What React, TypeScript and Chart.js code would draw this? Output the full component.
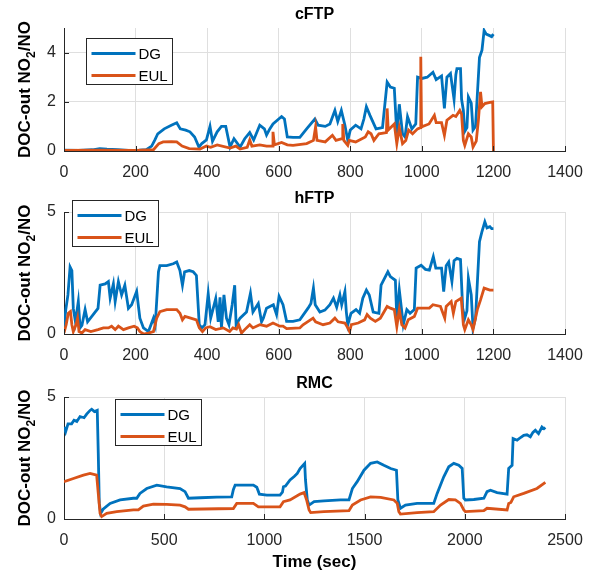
import React, { useEffect, useRef } from 'react';
import { Chart, registerables } from 'chart.js';

Chart.register(...registerables);

const FONT = '"Liberation Sans", Arial, Helvetica, sans-serif';
const AXIS = '#262626';
const GRID = '#dfdfdf';
const DG_COLOR = '#0072BD';
const EUL_COLOR = '#D95319';

const seriesNames = ['DG', 'EUL'];
const panelTitles = ['cFTP', 'hFTP', 'RMC'];
const yAxisLabelMain = 'DOC-out NO';
const yAxisLabelSub = '2';
const yAxisLabelEnd = '/NO';
const xAxisLabel = 'Time (sec)';

const ftpXTicks = [0, 200, 400, 600, 800, 1000, 1200, 1400];
const rmcXTicks = [0, 500, 1000, 1500, 2000, 2500];
const cftpYTicks = [0, 2, 4];
const hftpYTicks = [0, 5];
const rmcYTicks = [0, 5];

// [time (sec), NO2/NO]
const cftpDG: [number, number][] = [
  [0, 0.03], [40, 0.02], [80, 0.05], [100, 0.1], [120, 0.08], [150, 0.06], [180, 0.02], [210, 0.03],
  [230, 0.05], [245, 0.2], [254, 0.45], [262, 0.7], [280, 0.9], [300, 1.05], [315, 1.15], [325, 0.9],
  [340, 0.85], [352, 0.78], [365, 0.57], [377, 0.16], [385, 0.3], [398, 0.45], [408, 1.0], [415, 0.4],
  [428, 0.78], [440, 1.0], [452, 1.0], [464, 0.16], [475, 0.5], [492, 0.16], [505, 0.5], [519, 0.75],
  [530, 0.45], [547, 1.05], [560, 0.9], [566, 0.65], [575, 0.9], [584, 1.1], [600, 1.3], [608, 1.4],
  [616, 1.3], [624, 0.57], [640, 0.55], [659, 0.55], [678, 0.9], [701, 1.3], [710, 1.05], [730, 1.0],
  [743, 1.1], [757, 1.65], [765, 1.2], [775, 1.65], [785, 1.05], [793, 0.43], [800, 0.85], [815, 1.05],
  [830, 0.9], [838, 1.3], [845, 1.8], [855, 1.45], [872, 0.9], [890, 0.95], [903, 2.8], [912, 2.6],
  [923, 2.55], [930, 0.7], [937, 1.9], [946, 0.7], [953, 0.57], [960, 1.4], [972, 0.9], [983, 1.1],
  [988, 3.0], [1000, 2.95], [1015, 3.0], [1031, 3.2], [1040, 2.9], [1055, 3.05], [1063, 1.73], [1070, 3.0],
  [1080, 3.15], [1090, 2.1], [1095, 3.1], [1098, 3.35], [1108, 3.35], [1111, 2.1], [1116, 1.65], [1120, 0.8],
  [1126, 0.95], [1130, 2.2], [1138, 1.95], [1143, 0.85], [1150, 1.0], [1161, 3.8], [1168, 4.1], [1174, 4.9],
  [1180, 4.75], [1188, 4.7], [1195, 4.65], [1200, 4.75],
];
const cftpEUL: [number, number][] = [
  [0, 0.02], [100, 0.03], [200, 0.02], [250, 0.05], [265, 0.3], [277, 0.37], [300, 0.38], [315, 0.37],
  [330, 0.2], [350, 0.1], [380, 0.08], [398, 0.2], [410, 0.15], [428, 0.25], [464, 0.12], [480, 0.2],
  [492, 0.08], [512, 0.15], [519, 0.45], [525, 0.2], [547, 0.25], [566, 0.2], [582, 0.2], [584, 0.78],
  [588, 0.25], [608, 0.35], [624, 0.25], [640, 0.23], [678, 0.3], [697, 0.43], [703, 0.98], [707, 0.43],
  [730, 0.37], [750, 0.64], [760, 0.43], [777, 0.5], [779, 1.1], [782, 0.43], [793, 0.23], [797, 0.43],
  [815, 0.37], [842, 0.57], [850, 0.78], [858, 0.7], [866, 0.43], [880, 0.7], [901, 0.75], [903, 1.73],
  [906, 0.85], [923, 1.1], [930, 0.3], [937, 0.95], [946, 0.3], [955, 0.43], [963, 0.85], [974, 0.7],
  [988, 0.9], [996, 0.95], [997, 3.83], [999, 0.98], [1020, 1.1], [1035, 1.45], [1040, 1.15], [1055, 1.15],
  [1063, 0.64], [1070, 1.25], [1087, 1.45], [1095, 1.4], [1106, 1.65], [1111, 1.5], [1116, 0.43], [1120, 0.23],
  [1130, 0.7], [1138, 0.57], [1143, 0.16], [1152, 0.4], [1158, 1.25], [1164, 2.4], [1168, 1.8], [1176, 1.93],
  [1190, 1.98], [1198, 2.0], [1200, 0.0],
];
const hftpDG: [number, number][] = [
  [0, 0.25], [5, 1.0], [11, 1.6], [17, 2.75], [22, 2.6], [26, 1.05], [32, 0.5], [40, 1.33], [45, 0.25],
  [50, 0.35], [59, 1.0], [66, 0.5], [82, 0.8], [95, 1.05], [101, 2.0], [115, 2.05], [124, 2.15], [129, 1.47],
  [138, 2.05], [143, 1.33], [152, 2.15], [161, 1.6], [170, 2.0], [180, 1.05], [189, 1.2], [203, 1.75],
  [212, 0.65], [222, 0.25], [236, 0.1], [250, 0.65], [255, 0.38], [264, 2.55], [268, 2.8], [287, 2.8],
  [305, 2.88], [315, 2.95], [324, 2.6], [331, 2.0], [337, 2.55], [350, 2.6], [361, 2.55], [370, 2.4],
  [378, 0.38], [385, 0.25], [394, 0.38], [403, 1.65], [410, 0.65], [424, 1.45], [431, 0.5], [436, 1.5],
  [440, 0.25], [447, 1.6], [454, 0.65], [461, 0.38], [470, 1.2], [477, 2.0], [481, 0.38], [492, 0.65],
  [510, 0.9], [521, 1.67], [528, 0.9], [543, 1.25], [552, 0.5], [557, 0.65], [566, 1.06], [585, 1.2],
  [594, 0.8], [601, 1.54], [612, 1.2], [622, 0.52], [640, 0.52], [659, 0.58], [682, 1.06], [690, 1.25],
  [697, 1.88], [702, 1.2], [715, 0.9], [729, 0.98], [743, 1.2], [753, 1.47], [762, 1.1], [771, 1.6],
  [776, 1.2], [785, 1.74], [789, 0.9], [793, 0.38], [802, 0.85], [816, 1.0], [826, 0.85], [835, 1.47],
  [845, 1.8], [853, 1.6], [864, 0.9], [880, 0.85], [886, 2.0], [905, 2.55], [912, 2.35], [926, 2.2],
  [930, 0.65], [937, 1.8], [946, 0.65], [948, 0.38], [958, 1.0], [967, 0.85], [979, 1.0], [984, 2.7],
  [998, 2.82], [1010, 2.65], [1021, 2.62], [1032, 3.17], [1039, 2.7], [1055, 2.7], [1061, 1.74], [1068, 2.8],
  [1075, 2.95], [1084, 2.15], [1090, 3.0], [1098, 3.1], [1108, 3.05], [1114, 1.06], [1120, 0.65], [1126, 0.95],
  [1130, 2.28], [1138, 1.6], [1143, 0.25], [1150, 0.65], [1161, 3.78], [1168, 4.2], [1176, 4.6], [1182, 4.35],
  [1190, 4.4], [1195, 4.32], [1200, 4.32],
];
const hftpEUL: [number, number][] = [
  [0, 0.04], [6, 0.38], [12, 0.85], [18, 0.92], [22, 0.38], [26, 0.1], [34, 0.4], [38, 0.65], [42, 0.1],
  [50, 0.04], [59, 0.18], [75, 0.1], [95, 0.18], [110, 0.25], [124, 0.25], [133, 0.32], [143, 0.18],
  [152, 0.32], [166, 0.18], [180, 0.25], [196, 0.32], [205, 0.25], [212, 0.1], [222, 0.0], [236, 0.04],
  [250, 0.1], [259, 0.65], [268, 0.92], [287, 1.0], [315, 1.0], [324, 0.85], [331, 0.58], [338, 0.72],
  [354, 0.65], [370, 0.58], [378, 0.25], [387, 0.1], [396, 0.25], [408, 0.3], [424, 0.18], [445, 0.25],
  [463, 0.1], [472, 0.25], [482, 0.2], [488, 0.38], [496, 0.04], [505, 0.18], [519, 0.38], [528, 0.25],
  [547, 0.38], [566, 0.32], [584, 0.45], [603, 0.32], [612, 0.32], [622, 0.22], [659, 0.25], [668, 0.38],
  [696, 0.65], [703, 0.5], [724, 0.38], [743, 0.45], [757, 0.65], [766, 0.5], [785, 0.45], [793, 0.25],
  [798, 0.1], [803, 0.38], [822, 0.45], [840, 0.58], [847, 0.8], [856, 0.65], [870, 0.52], [884, 0.65],
  [903, 1.13], [912, 1.06], [923, 1.0], [930, 0.3], [937, 1.0], [944, 0.38], [953, 0.25], [962, 0.58],
  [979, 0.72], [988, 1.06], [1021, 1.06], [1031, 1.2], [1052, 1.13], [1064, 0.65], [1068, 1.13], [1082, 1.33],
  [1088, 0.85], [1095, 1.33], [1110, 1.47], [1116, 0.38], [1120, 0.18], [1130, 0.58], [1138, 0.38], [1143, 0.18],
  [1155, 1.0], [1164, 1.4], [1174, 1.88], [1190, 1.8], [1200, 1.8],
];
const rmcDG: [number, number][] = [
  [0, 3.77], [8, 3.57], [20, 3.9], [38, 3.9], [50, 4.05], [64, 4.0], [80, 4.2], [100, 4.15], [113, 4.3],
  [130, 4.45], [138, 4.5], [152, 4.4], [166, 4.45], [171, 2.7], [176, 0.65], [183, 0.23], [195, 0.4],
  [230, 0.64], [280, 0.78], [346, 0.85], [363, 0.85], [379, 1.05], [413, 1.25], [463, 1.39], [512, 1.32],
  [579, 1.25], [604, 1.12], [621, 0.85], [679, 0.87], [762, 0.9], [837, 0.91], [845, 1.2], [854, 1.39],
  [945, 1.39], [962, 1.3], [975, 1.02], [1012, 0.98], [1078, 0.98], [1090, 1.1], [1095, 1.32], [1105, 1.35],
  [1128, 1.6], [1150, 1.75], [1164, 1.87], [1178, 2.07], [1201, 2.28], [1205, 1.6], [1214, 0.78], [1223, 0.57],
  [1248, 0.71], [1297, 0.74], [1380, 0.78], [1422, 0.78], [1439, 1.25], [1463, 1.53], [1497, 2.0], [1530, 2.28],
  [1563, 2.34], [1596, 2.2], [1630, 2.07], [1659, 2.0], [1666, 0.78], [1679, 0.44], [1704, 0.57], [1762, 0.64],
  [1845, 0.64], [1862, 1.05], [1895, 1.73], [1920, 2.14], [1945, 2.28], [1970, 2.2], [1987, 2.07], [1995, 0.85],
  [2003, 0.78], [2045, 0.8], [2095, 0.85], [2111, 1.12], [2128, 1.18], [2161, 1.08], [2211, 1.02], [2219, 2.07],
  [2228, 2.14], [2236, 2.2], [2241, 3.3], [2261, 3.23], [2280, 3.35], [2294, 3.43], [2310, 3.45], [2327, 3.37],
  [2340, 3.55], [2352, 3.64], [2368, 3.5], [2385, 3.77], [2395, 3.7], [2402, 3.75],
];
const rmcEUL: [number, number][] = [
  [0, 1.53], [47, 1.66], [97, 1.8], [130, 1.87], [163, 1.8], [171, 1.05], [180, 0.23], [188, 0.1],
  [213, 0.23], [263, 0.3], [346, 0.37], [371, 0.37], [396, 0.53], [446, 0.61], [512, 0.6], [579, 0.57],
  [604, 0.5], [621, 0.4], [845, 0.43], [862, 0.64], [945, 0.64], [970, 0.5], [1078, 0.5], [1095, 0.71],
  [1128, 0.78], [1178, 1.02], [1198, 1.08], [1210, 0.8], [1223, 0.37], [1231, 0.26], [1297, 0.3], [1422, 0.34],
  [1439, 0.57], [1480, 0.78], [1530, 0.91], [1580, 0.89], [1646, 0.78], [1663, 0.64], [1671, 0.3], [1679, 0.2],
  [1762, 0.26], [1845, 0.3], [1879, 0.57], [1920, 0.8], [1953, 0.78], [1978, 0.64], [1995, 0.37], [2003, 0.3],
  [2095, 0.34], [2111, 0.44], [2211, 0.37], [2219, 0.64], [2230, 0.68], [2244, 0.91], [2294, 1.05], [2360, 1.25],
  [2402, 1.5],
];

type PanelProps = {
  title: string;
  dg: [number, number][];
  eul: [number, number][];
  xTicks: number[];
  yTicks: number[];
  top: number;
  height: number;
  xAxisHeight: number;
  legendPos: [number, number];
  showXTitle: boolean;
};

function Panel(props: PanelProps) {
  const ref = useRef<HTMLCanvasElement | null>(null);
  useEffect(() => {
    const canvas = ref.current;
    if (!canvas) return;
    const { title, dg, eul, xTicks, yTicks, xAxisHeight, legendPos, showXTitle } = props;
    const xMax = xTicks[xTicks.length - 1];

    const decor = {
      id: 'decor',
      afterDraw(chart: any) {
        const { ctx, chartArea: a, scales } = chart;
        ctx.save();
        // inward tick marks
        ctx.strokeStyle = AXIS;
        ctx.lineWidth = 1;
        ctx.beginPath();
        xTicks.forEach((v) => {
          const px = Math.round(scales.x.getPixelForValue(v)) + 0.5;
          ctx.moveTo(px, a.bottom);
          ctx.lineTo(px, a.bottom - 5);
        });
        yTicks.forEach((v) => {
          const py = Math.round(scales.y.getPixelForValue(v)) + 0.5;
          ctx.moveTo(a.left, py);
          ctx.lineTo(a.left + 5, py);
        });
        ctx.stroke();

        // title
        ctx.fillStyle = '#000';
        ctx.font = `bold 16px ${FONT}`;
        ctx.textAlign = 'center';
        ctx.textBaseline = 'middle';
        ctx.fillText(title, (a.left + a.right) / 2, a.top - 13);

        // y label with subscript
        ctx.save();
        ctx.translate(25, (a.top + a.bottom) / 2);
        ctx.rotate(-Math.PI / 2);
        const mainFont = `bold 17px ${FONT}`;
        const subFont = `bold 12px ${FONT}`;
        ctx.font = mainFont;
        const w1 = ctx.measureText(yAxisLabelMain).width;
        const w3 = ctx.measureText(yAxisLabelEnd).width;
        ctx.font = subFont;
        const w2 = ctx.measureText(yAxisLabelSub).width;
        let sx = -(w1 + w2 + w3) / 2;
        ctx.textAlign = 'left';
        ctx.textBaseline = 'middle';
        ctx.fillStyle = '#000';
        ctx.font = mainFont;
        ctx.fillText(yAxisLabelMain, sx, 0);
        sx += w1;
        ctx.font = subFont;
        ctx.fillText(yAxisLabelSub, sx, 7);
        sx += w2;
        ctx.font = mainFont;
        ctx.fillText(yAxisLabelEnd, sx, 0);
        ctx.restore();

        // legend
        const bx = Math.round(a.left + legendPos[0]) + 0.5;
        const by = Math.round(a.top + legendPos[1]) + 0.5;
        const bw = 86;
        const bh = 46;
        ctx.fillStyle = '#fff';
        ctx.fillRect(bx, by, bw, bh);
        ctx.strokeStyle = AXIS;
        ctx.lineWidth = 1;
        ctx.strokeRect(bx, by, bw, bh);
        const colors = [DG_COLOR, EUL_COLOR];
        const rows = [15, 37];
        seriesNames.forEach((name, i) => {
          const ry = by + rows[i];
          ctx.strokeStyle = colors[i];
          ctx.lineWidth = 2.8;
          ctx.beginPath();
          ctx.moveTo(bx + 5, ry);
          ctx.lineTo(bx + 49, ry);
          ctx.stroke();
          ctx.fillStyle = '#000';
          ctx.font = `15px ${FONT}`;
          ctx.textAlign = 'left';
          ctx.textBaseline = 'middle';
          ctx.fillText(name, bx + 52, ry + 1);
        });

        if (showXTitle) {
          ctx.fillStyle = '#000';
          ctx.font = `bold 17px ${FONT}`;
          ctx.textAlign = 'center';
          ctx.textBaseline = 'middle';
          ctx.fillText(xAxisLabel, (a.left + a.right) / 2, a.bottom + 43);
        }
        ctx.restore();
      },
    };

    const toPts = (arr: [number, number][]) => arr.map(([x, y]) => ({ x, y }));

    const chart = new Chart(canvas, {
      type: 'line',
      data: {
        datasets: [
          {
            label: seriesNames[0],
            data: toPts(dg),
            borderColor: DG_COLOR,
            backgroundColor: DG_COLOR,
            borderWidth: 2.8,
            pointRadius: 0,
            tension: 0,
            order: 2,
          },
          {
            label: seriesNames[1],
            data: toPts(eul),
            borderColor: EUL_COLOR,
            backgroundColor: EUL_COLOR,
            borderWidth: 2.8,
            pointRadius: 0,
            tension: 0,
            order: 1,
          },
        ],
      },
      options: {
        animation: false,
        responsive: false,
        devicePixelRatio: 1,
        layout: { padding: { top: 28, right: 30, left: 0, bottom: 0 } },
        plugins: {
          legend: { display: false },
          tooltip: { enabled: false },
          title: { display: false },
        },
        scales: {
          x: {
            type: 'linear',
            min: 0,
            max: xMax,
            afterBuildTicks: (s: any) => {
              s.ticks = xTicks.map((v) => ({ value: v }));
            },
            afterFit: (s: any) => {
              s.height = xAxisHeight;
            },
            grid: { color: GRID, drawTicks: false, lineWidth: 1 },
            border: { color: AXIS, width: 1 },
            ticks: {
              color: AXIS,
              font: { family: FONT, size: 16 },
              padding: 12,
              maxRotation: 0,
              autoSkip: false,
              callback: (v: any) => String(v),
            },
          },
          y: {
            type: 'linear',
            min: 0,
            max: 5,
            afterBuildTicks: (s: any) => {
              s.ticks = yTicks.map((v) => ({ value: v }));
            },
            afterFit: (s: any) => {
              s.width = 64;
            },
            grid: { color: GRID, drawTicks: false, lineWidth: 1 },
            border: { color: AXIS, width: 1 },
            ticks: {
              color: AXIS,
              font: { family: FONT, size: 16 },
              padding: 8,
              callback: (v: any) => String(v),
            },
          },
        },
      } as any,
      plugins: [decor],
    });
    return () => chart.destroy();
  }, []);

  return (
    <canvas
      ref={ref}
      width={595}
      height={props.height}
      style={{ position: 'absolute', left: 0, top: props.top, width: 595, height: props.height }}
    />
  );
}

export default function App() {
  return (
    <div
      style={{
        position: 'absolute',
        left: 0,
        top: 0,
        width: 595,
        height: 577,
        background: '#fff',
        overflow: 'hidden',
      }}
    >
      <Panel
        title={panelTitles[0]}
        dg={cftpDG}
        eul={cftpEUL}
        xTicks={ftpXTicks}
        yTicks={cftpYTicks}
        top={0}
        height={184}
        xAxisHeight={33}
        legendPos={[22, 10]}
        showXTitle={false}
      />
      <Panel
        title={panelTitles[1]}
        dg={hftpDG}
        eul={hftpEUL}
        xTicks={ftpXTicks}
        yTicks={hftpYTicks}
        top={184}
        height={185}
        xAxisHeight={35}
        legendPos={[8, -12]}
        showXTitle={false}
      />
      <Panel
        title={panelTitles[2]}
        dg={rmcDG}
        eul={rmcEUL}
        xTicks={rmcXTicks}
        yTicks={rmcYTicks}
        top={369}
        height={208}
        xAxisHeight={58}
        legendPos={[51, 2]}
        showXTitle={true}
      />
    </div>
  );
}
